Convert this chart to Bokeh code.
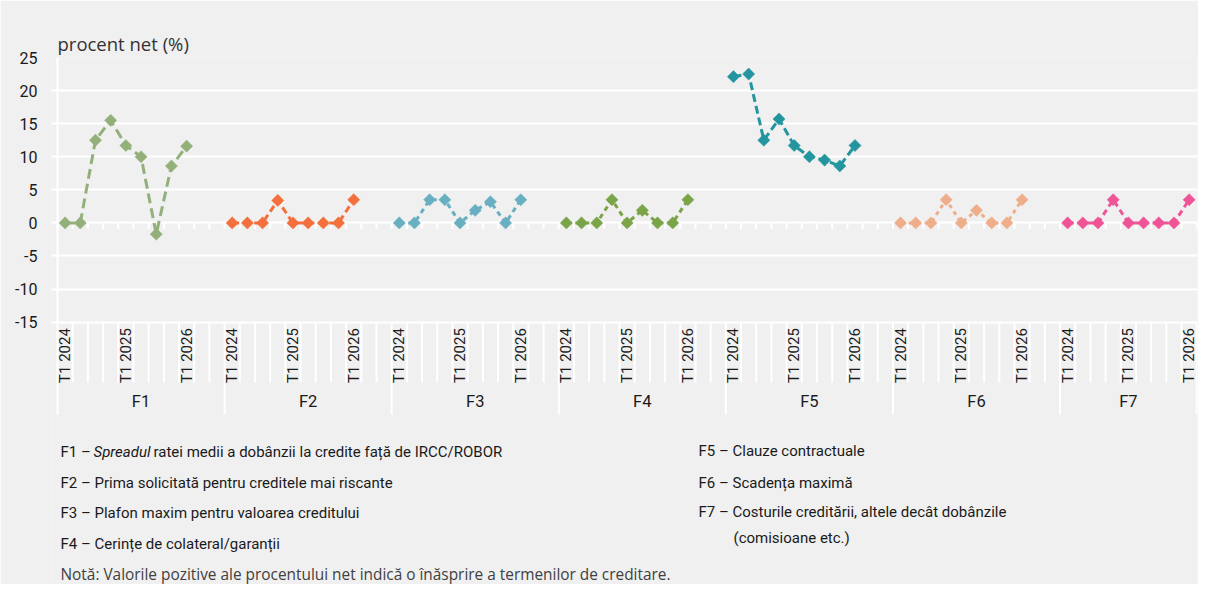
import numpy as np
from bokeh.plotting import figure
from bokeh.models import Range1d, FixedTicker
from bokeh.core.properties import value
from bokeh.embed import file_html
from bokeh.resources import INLINE

# ---------------- data ----------------
quarters = ["T1 2024", "T2 2024", "T3 2024", "T4 2024",
            "T1 2025", "T2 2025", "T3 2025", "T4 2025", "T1 2026"]
groups = ["F1", "F2", "F3", "F4", "F5", "F6", "F7"]

f1 = [0, 0, 12.5, 15.5, 11.7, 10.0, -1.7, 8.6, 11.6]
f2 = [0, 0, 0, 3.4, 0, 0, 0, 0, 3.5]
f3 = [0, 0, 3.5, 3.5, 0, 1.9, 3.2, 0, 3.5]
f4 = [0, 0, 0, 3.5, 0, 1.9, 0, 0, 3.5]
f5 = [22.1, 22.5, 12.5, 15.7, 11.7, 10.0, 9.5, 8.6, 11.7]
f6 = [0, 0, 0, 3.5, 0, 1.9, 0, 0, 3.5]
f7 = [0, 0, 0, 3.5, 0, 0, 0, 0, 3.5]
series = [f1, f2, f3, f4, f5, f6, f7]

y_ticks = [-15, -10, -5, 0, 5, 10, 15, 20, 25]
y_tick_labels = ["-15", "-10", "-5", "0", "5", "10", "15", "20", "25"]

colors = ["#93b07a", "#f36f3b", "#68b0c1", "#79a447", "#23959f", "#eeae8a", "#ef5497"]
dashes = ["10 5", "7 4", "5 4", "5 4", "8 4", "4 4", "6 4"]

legend_left = [
    ["F1 – ", "Spreadul", "ratei medii a dobânzii la credite față de IRCC/ROBOR"],
    ["F2 – Prima solicitată pentru creditele mai riscante"],
    ["F3 – Plafon maxim pentru valoarea creditului"],
    ["F4 – Cerințe de colateral/garanții"],
]
legend_right = [
    "F5 – Clauze contractuale",
    "F6 – Scadența maximă",
    "F7 – Costurile creditării, altele decât dobânzile",
]
legend_cont = "(comisioane etc.)"
note = "Notă: Valorile pozitive ale procentului net indică o înăsprire a termenilor de creditare."
y_title = "procent net (%)"

# ---------------- layout ----------------
W, H = 1198, 584
FL, FT, BR = 51, 57, 1
SX = 15.19           # px per slot
SY = 6.616           # px per y unit
X0 = -(57 - FL) / SX
X1 = X0 + (W - FL - BR) / SX
Y1 = 25
Y0 = Y1 - (H - FT) / SY

def px2x(cx):
    return X0 + (cx - FL) / SX

def px2y(cy):
    return Y1 - (cy - FT) / SY

NARROW = "Roboto"
REG = "Open Sans"
TXT = "#1a1a1a"
BG = "#f0f0f0"

GROUP_SLOTS = 11
n_q = len(quarters)
group_starts = [GROUP_SLOTS * g for g in range(len(groups))]
group_sizes = [GROUP_SLOTS] * (len(groups) - 1) + [n_q]
total_slots = group_starts[-1] + group_sizes[-1]

p = figure(width=W, height=H, x_range=Range1d(X0, X1), y_range=Range1d(Y0, Y1),
           x_axis_location=None, output_backend="svg", toolbar_location=None,
           min_border_left=FL, min_border_right=BR, min_border_top=FT, min_border_bottom=0,
           background_fill_color=BG, border_fill_color=BG, outline_line_color=None)

p.title.text = y_title
p.title.text_font = REG
p.title.text_font_size = "18.5px"
p.title.text_font_style = "normal"
p.title.text_color = "#333333"
p.title.align = "left"
p.title.offset = 6
p.title.standoff = 4

ax = p.yaxis[0]
ax.ticker = FixedTicker(ticks=y_ticks)
ax.major_label_overrides = {t: s for t, s in zip(y_ticks, y_tick_labels)}
ax.axis_line_color = None
ax.major_tick_line_color = None
ax.minor_tick_line_color = None
ax.major_tick_out = 0
ax.major_tick_in = 0
ax.major_label_standoff = 14
ax.major_label_text_font = NARROW
ax.major_label_text_font_size = "16px"
ax.major_label_text_color = TXT

p.xgrid.grid_line_color = None
p.ygrid.grid_line_color = "white"
p.ygrid.grid_line_width = 2

# separators / tick marks
bounds = list(range(0, total_slots + 1))
gb = set(group_starts + [total_slots])
y_low = min(y_ticks)
sep_short = px2y(382)
sep_long = px2y(414)
x0s, y0s, x1s, y1s = [], [], [], []
for b in bounds:
    if b == 0:
        x0s.append(b); y0s.append(max(y_ticks)); x1s.append(b); y1s.append(sep_long)
    elif b in gb:
        x0s.append(b); y0s.append(y_low); x1s.append(b); y1s.append(sep_long)
    else:
        x0s.append(b); y0s.append(y_low); x1s.append(b); y1s.append(sep_short)
p.segment(x0s, y0s, x1s, y1s, line_color="white", line_width=2)
# small ticks under zero line
p.segment(bounds, [0] * len(bounds), bounds, [-6 / SY] * len(bounds),
          line_color="white", line_width=2)

# series
for g, vals in enumerate(series):
    xs = [group_starts[g] + i + 0.5 for i in range(len(vals))]
    p.line(xs, vals, line_color=colors[g], line_width=3, line_dash=dashes[g])
    p.scatter(xs, vals, marker="square", size=8.6, angle=np.pi / 4,
              fill_color=colors[g], line_color=colors[g], line_width=0.5)

# category tick labels
lx, ltxt = [], []
for g in range(len(groups)):
    for i, q in enumerate(quarters):
        if q.startswith("T1"):
            lx.append(group_starts[g] + i + 0.5)
            ltxt.append(q)
p.text(lx, [y_low - 6 / SY] * len(lx), text=ltxt, angle=np.pi / 2,
       text_align="right", text_baseline="middle", text_font=value(NARROW),
       text_font_size="15px", text_color=TXT)

# group labels
gx = [group_starts[g] + group_sizes[g] / 2 for g in range(len(groups))]
p.text(gx, [px2y(400.5)] * len(gx), text=groups, text_align="center",
       text_baseline="middle", text_font=value(NARROW), text_font_size="16.5px",
       text_color=TXT)

# legend (left column)
LFS = "15px"
rows_left = [451, 482, 512, 543]
for row, cy in zip(legend_left, rows_left):
    if len(row) == 1:
        p.text([px2x(60)], [px2y(cy)], text=[row[0]], text_align="left",
               text_baseline="middle", text_font=value(NARROW), text_font_size=LFS,
               text_color=TXT)
    else:
        p.text([px2x(60)], [px2y(cy)], text=[row[0]], text_align="left",
               text_baseline="middle", text_font=value(NARROW), text_font_size=LFS,
               text_color=TXT)
        p.text([px2x(93)], [px2y(cy)], text=[row[1]], text_align="left",
               text_baseline="middle", text_font=value(NARROW), text_font_size=LFS,
               text_font_style="italic", text_color=TXT)
        p.text([px2x(153)], [px2y(cy)], text=[row[2]], text_align="left",
               text_baseline="middle", text_font=value(NARROW), text_font_size=LFS,
               text_color=TXT)

rows_right = [450, 482, 511]
p.text([px2x(698)] * 3, [px2y(c) for c in rows_right], text=legend_right,
       text_align="left", text_baseline="middle", text_font=value(NARROW),
       text_font_size=LFS, text_color=TXT)
p.text([px2x(733)], [px2y(537)], text=[legend_cont], text_align="left",
       text_baseline="middle", text_font=value(NARROW), text_font_size=LFS,
       text_color=TXT)

p.text([px2x(60)], [px2y(573.5)], text=[note], text_align="left",
       text_baseline="middle", text_font=value(REG), text_font_size="15.4px",
       text_color="#404040")

open("out.html", "w").write(file_html(p, INLINE))
